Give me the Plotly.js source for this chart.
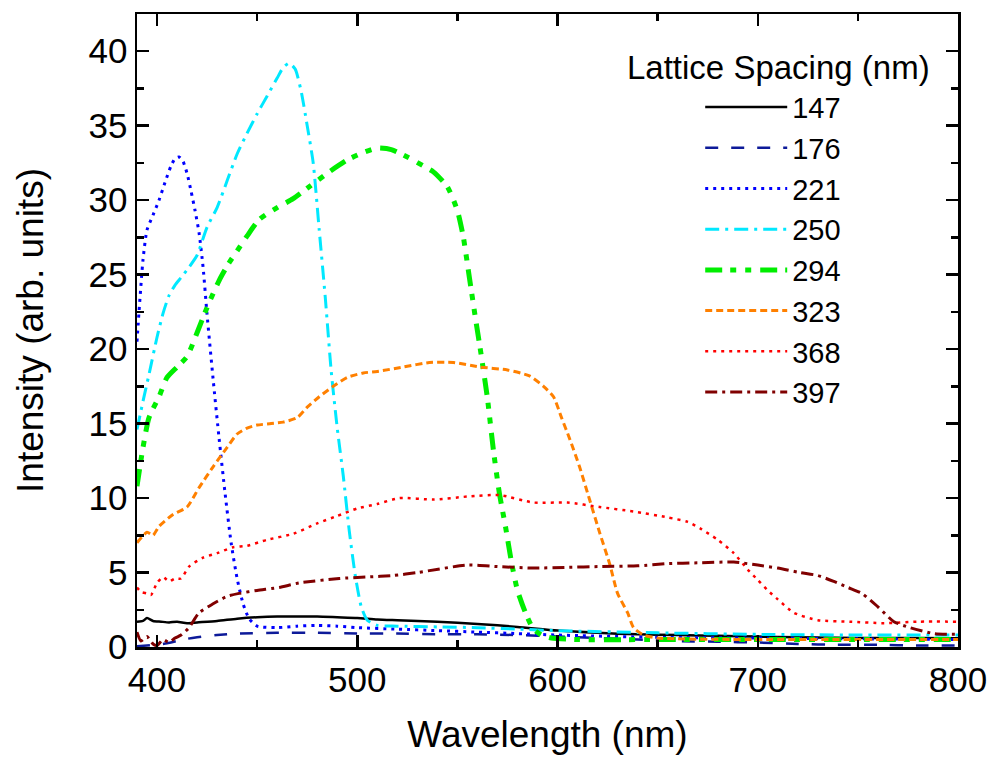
<!DOCTYPE html>
<html>
<head>
<meta charset="utf-8">
<script src="https://cdn.plot.ly/plotly-3.0.1.min.js"></script>
<style>html,body{margin:0;padding:0;background:#fff;}#chart{width:992px;height:757px;}</style>
</head>
<body>
<div id="chart"></div>
<script>
// Series names (lattice spacing, nm)
const seriesNames = ["147", "176", "221", "250", "294", "323", "368", "397"];

const wl147 = [390, 393, 395, 398, 402, 406, 410, 415, 420, 430, 440, 450, 460, 470, 480, 490, 500, 510, 520, 540, 560, 580, 600, 620, 640, 660, 680, 700, 720, 740, 760, 780, 800];
const in147 = [1.7, 1.75, 1.95, 1.75, 1.7, 1.65, 1.7, 1.6, 1.65, 1.75, 1.9, 2.0, 2.05, 2.05, 2.05, 2.0, 1.95, 1.85, 1.8, 1.7, 1.55, 1.35, 1.1, 0.95, 0.85, 0.8, 0.75, 0.7, 0.65, 0.62, 0.6, 0.6, 0.58];

const wl176 = [390, 395, 400, 405, 410, 415, 420, 430, 440, 460, 480, 500, 520, 540, 560, 580, 600, 620, 640, 660, 680, 700, 720, 740, 760, 780, 800];
const in176 = [0.05, 0.1, 0.15, 0.25, 0.4, 0.55, 0.65, 0.8, 0.9, 0.95, 0.95, 0.9, 0.9, 0.85, 0.85, 0.8, 0.7, 0.6, 0.5, 0.4, 0.35, 0.3, 0.2, 0.15, 0.15, 0.1, 0.1];

const wl221 = [390, 391, 393, 395, 398, 401, 404, 407, 409, 411, 413, 415, 417, 419, 421, 423, 425, 428, 431, 434, 437, 440, 443, 446, 450, 460, 470, 480, 490, 500, 520, 540, 560, 580, 600, 650, 700, 750, 800];
const in221 = [20.5, 22.5, 26, 28, 29, 30, 31.2, 32.3, 32.8, 32.9, 32.6, 31.8, 30.6, 29.3, 27.8, 25.5, 22.3, 18, 14, 10.3, 7, 4.6, 2.9, 1.9, 1.4, 1.3, 1.4, 1.45, 1.4, 1.3, 1.2, 1.1, 1.0, 0.9, 0.8, 0.65, 0.6, 0.55, 0.5];

const wl250 = [390, 393, 396, 400, 403, 406, 409, 412, 416, 420, 425, 430, 435, 440, 445, 450, 455, 460, 463, 466, 469, 472, 475, 478, 481, 484, 487, 490, 493, 496, 499, 502, 505, 510, 520, 540, 560, 580, 600, 650, 700, 750, 800];
const in250 = [14.6, 16.5, 18.3, 20.8, 22.4, 23.6, 24.3, 24.8, 25.5, 26.3, 28.2, 29.5, 31.3, 33.1, 34.5, 35.8, 37, 38.2, 38.9, 39.2, 38.8, 37.3, 35, 32.5, 28, 23.5, 18.5, 14.7, 11.5, 7.8, 4.8, 2.7, 1.8, 1.45, 1.4, 1.35, 1.3, 1.2, 1.1, 0.95, 0.85, 0.8, 0.8];

const wl294 = [390, 393, 396, 401, 405, 410, 415, 420, 425, 431, 436, 440, 445, 451, 460, 468, 476, 486, 495, 503, 510, 517, 525, 533, 538, 545, 550, 553, 556, 559, 562, 565, 568, 571, 574, 577, 580, 584, 588, 592, 597, 610, 650, 700, 750, 800];
const in294 = [10.8, 13.4, 15.4, 16.8, 18.1, 18.8, 19.5, 21.1, 22.8, 24.6, 25.8, 26.6, 27.6, 28.7, 29.5, 30.1, 30.9, 31.9, 32.7, 33.2, 33.5, 33.4, 32.9, 32.3, 31.9, 30.9, 29.3, 27.5, 24.8, 22.1, 19.5, 16.7, 13.2, 10.3, 8.1, 5.7, 3.8, 2.3, 1.2, 0.8, 0.6, 0.5, 0.5, 0.5, 0.5, 0.5];

const wl323 = [390, 395, 398, 401, 408, 415, 421, 428, 435, 440, 445, 450, 457, 463, 470, 475, 481, 488, 495, 503, 510, 523, 536, 548, 561, 575, 586, 593, 598, 602, 606, 611, 616, 621, 626, 630, 635, 638, 643, 650, 700, 750, 800];
const in323 = [7.0, 7.7, 7.5, 8.1, 8.9, 9.4, 10.7, 12.1, 13.4, 14.3, 14.7, 14.9, 15.0, 15.1, 15.4, 16.1, 16.8, 17.5, 18.1, 18.4, 18.5, 18.8, 19.1, 19.1, 18.8, 18.6, 18.2, 17.5, 16.8, 15.4, 14.0, 12.1, 9.9, 7.7, 5.6, 3.6, 2.3, 1.3, 0.8, 0.6, 0.5, 0.5, 0.5];

const wl368 = [390, 392, 395, 397, 400, 403, 406, 409, 412, 416, 423, 430, 438, 445, 455, 468, 480, 490, 500, 510, 521, 538, 555, 571, 588, 605, 621, 638, 655, 665, 672, 680, 688, 695, 700, 705, 710, 718, 730, 746, 763, 780, 800];
const in368 = [4.0, 3.7, 3.6, 3.5, 4.3, 4.7, 4.4, 4.6, 4.6, 5.4, 6.0, 6.3, 6.7, 6.8, 7.2, 7.6, 8.3, 8.8, 9.3, 9.6, 10.0, 9.9, 10.1, 10.2, 9.7, 9.7, 9.4, 9.1, 8.7, 8.4, 7.9, 7.2, 6.3, 5.2, 4.5, 3.8, 3.2, 2.3, 1.8, 1.7, 1.6, 1.7, 1.7];

const wl397 = [390, 392, 395, 398, 400, 403, 406, 409, 412, 416, 421, 428, 435, 441, 450, 461, 471, 491, 505, 518, 530, 555, 570, 588, 605, 621, 640, 655, 670, 688, 700, 710, 721, 730, 738, 745, 752, 760, 768, 776, 788, 800];
const in397 = [1.0, 0.4, 0.7, 0.2, 0.1, 0.5, 0.3, 0.6, 0.8, 1.3, 2.3, 2.9, 3.4, 3.6, 3.8, 4.0, 4.3, 4.6, 4.7, 4.8, 5.0, 5.5, 5.4, 5.3, 5.35, 5.4, 5.45, 5.6, 5.65, 5.7, 5.5, 5.3, 5.0, 4.8, 4.4, 4.0, 3.6, 2.7, 1.7, 1.3, 0.9, 0.85];

const xTicks = [400, 500, 600, 700, 800];
const yTicks = [0, 5, 10, 15, 20, 25, 30, 35, 40];

const FONT = "Liberation Sans, Arial, sans-serif";

const styles = [
  {color: "#000000", width: 2.5, dash: "solid"},
  {color: "#0d1a99", width: 2.5, dash: "13px,13px"},
  {color: "#0000ff", width: 3, dash: "3px,5px"},
  {color: "#00e8ff", width: 3, dash: "14px,6px,3px,6px"},
  {color: "#00ee00", width: 5, dash: "17px,8px,6px,9px,6px,9px"},
  {color: "#ff8000", width: 3, dash: "7px,4px"},
  {color: "#ff0000", width: 2.5, dash: "3px,5px"},
  {color: "#800000", width: 3, dash: "12px,5px,3px,5px"}
];

const xs = [wl147, wl176, wl221, wl250, wl294, wl323, wl368, wl397];
const ys = [in147, in176, in221, in250, in294, in323, in368, in397];

const traces = seriesNames.map((n, i) => ({
  x: xs[i], y: ys[i], name: n, type: "scatter", mode: "lines",
  line: {color: styles[i].color, width: styles[i].width, dash: styles[i].dash, shape: "spline", smoothing: 0.6}
}));

const axisCommon = {
  showline: true, linewidth: 2.5, linecolor: "#000", mirror: "ticks",
  ticks: "inside", ticklen: 12, tickwidth: 2.5, tickcolor: "#000",
  showgrid: false, zeroline: false,
  tickfont: {family: FONT, size: 35, color: "#000"}
};

const layout = {
  width: 992, height: 757,
  margin: {l: 137, r: 34, t: 14, b: 110},
  paper_bgcolor: "#fff", plot_bgcolor: "#fff",
  font: {family: FONT, color: "#000"},
  showlegend: true,
  xaxis: Object.assign({}, axisCommon, {
    range: [390, 800], tickmode: "array", tickvals: xTicks, ticktext: xTicks.map(String),
    minor: {dtick: 50, tick0: 400, ticks: "inside", ticklen: 7, tickwidth: 2.5, tickcolor: "#000", showgrid: false},
    title: {text: "Wavelength (nm)", font: {family: FONT, size: 37, color: "#000"}, standoff: 24}
  }),
  yaxis: Object.assign({}, axisCommon, {
    range: [0, 42.5], tickmode: "array", tickvals: yTicks, ticktext: yTicks.map(String),
    minor: {dtick: 2.5, tick0: 0, ticks: "inside", ticklen: 7, tickwidth: 2.5, tickcolor: "#000", showgrid: false},
    title: {text: "Intensity (arb. units)", font: {family: FONT, size: 37, color: "#000"}, standoff: 34}
  }),
  legend: {
    x: 0.686, y: 0.893, xanchor: "left", yanchor: "top",
    bgcolor: "rgba(0,0,0,0)", borderwidth: 0,
    font: {family: FONT, size: 29, color: "#000"},
    itemwidth: 82, tracegroupgap: 0
  },
  annotations: [{
    text: "Lattice Spacing (nm)", xref: "paper", yref: "paper",
    x: 0.594, y: 0.915, xanchor: "left", yanchor: "middle", showarrow: false,
    font: {family: FONT, size: 33, color: "#000"}
  }]
};

Plotly.newPlot("chart", traces, layout, {displayModeBar: false, staticPlot: true});
</script>
</body>
</html>
